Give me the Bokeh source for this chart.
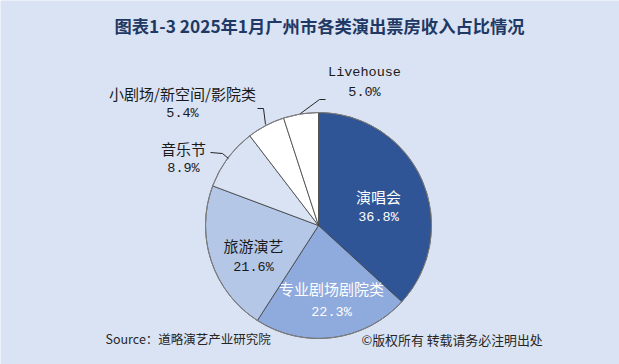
import math
from bokeh.plotting import figure
from bokeh.models import Range1d, ColumnDataSource
from bokeh.core.properties import value
from bokeh.embed import file_html
from bokeh.resources import INLINE

# ---- data ----
title_text = "图表1-3  2025年1月广州市各类演出票房收入占比情况"
categories = ["演唱会", "专业剧场剧院类", "旅游演艺", "音乐节", "小剧场/新空间/影院类", "Livehouse"]
shares = [36.8, 22.3, 21.6, 8.9, 5.4, 5.0]
source_text = "Source：道略演艺产业研究院"
copyright_text = "©版权所有  转载请务必注明出处"

# ---- styles / layout ----
BG = "#DAE3F3"
colors = ["#2F5597", "#8FAADC", "#B4C7E7", "#DAE3F3", "#FFFFFF", "#FFFFFF"]
text_colors = ["white", "white", "#1a1a1a", "#1a1a1a", "#1a1a1a", "#1a1a1a"]
# label centers in screen pixels (name line, percent line)
label_pos = [(378, 196, 217), (331, 288, 312), (253, 245, 267),
             (183, 148, 168), (182, 93, 113), (364, 72, 92)]
W, H = 619, 364
CX, CY, R = 318, 225, 113


def sy(y):
    return H - y


p = figure(width=W, height=H, output_backend="svg", toolbar_location=None,
           x_range=Range1d(0, W), y_range=Range1d(0, H),
           min_border=0, x_axis_location=None, y_axis_location=None)
p.grid.visible = False
p.outline_line_color = None
p.background_fill_color = BG
p.border_fill_color = BG

total = sum(shares)
starts, ends = [], []
cum = 0.0
for s in shares:
    starts.append(math.pi / 2 - 2 * math.pi * cum / total)
    cum += s
    ends.append(math.pi / 2 - 2 * math.pi * cum / total)

src = ColumnDataSource(dict(start=starts, end=ends, color=colors,
                            x=[CX] * len(shares), y=[sy(CY)] * len(shares)))
p.wedge(x="x", y="y", radius=R, start_angle="start", end_angle="end",
        direction="clock", fill_color="color", line_color="#404040",
        line_width=0.8, source=src)
p.circle(x=[CX], y=[sy(CY)], radius=R, fill_color=None, line_color="#7F7F7F", line_width=1)

# leader lines
leaders = [
    [(210, 152), (222, 153), (228, 158)],
    [(257, 108), (263, 108), (265, 124)],
    [(325, 99), (319, 99), (300, 113)],
]
for pts in leaders:
    p.line([a for a, b in pts], [sy(b) for a, b in pts], line_color="#262626", line_width=1)

# labels
for i, cat in enumerate(categories):
    x, y1, y2 = label_pos[i]
    is_latin = cat.isascii()
    p.text(x=[x], y=[sy(y1)], text=[cat], text_align="center", text_baseline="middle",
           text_font=value("Liberation Mono" if is_latin else "Noto Sans CJK SC"),
           text_font_size="13.5px" if is_latin else "15px", text_color=text_colors[i])
    p.text(x=[x], y=[sy(y2)], text=[f"{shares[i]:.1f}%"], text_align="center",
           text_baseline="middle", text_font=value("Liberation Mono"),
           text_font_size="13.5px", text_color=text_colors[i])

# title
p.text(x=[321], y=[sy(25)], text=[title_text], text_align="center", text_baseline="middle",
       text_font=value("Noto Sans CJK SC"), text_font_style="bold",
       text_font_size="17.3px", text_color="#1F3864")

# footer
p.text(x=[105], y=[sy(338)], text=[source_text], text_align="left", text_baseline="middle",
       text_font=value("Noto Sans CJK SC"), text_font_size="12.5px", text_color="#262626")
p.text(x=[361], y=[sy(339)], text=[copyright_text], text_align="left", text_baseline="middle",
       text_font=value("Noto Sans CJK SC"), text_font_size="12.9px", text_color="#262626")

open("out.html", "w").write(file_html(p, INLINE))
